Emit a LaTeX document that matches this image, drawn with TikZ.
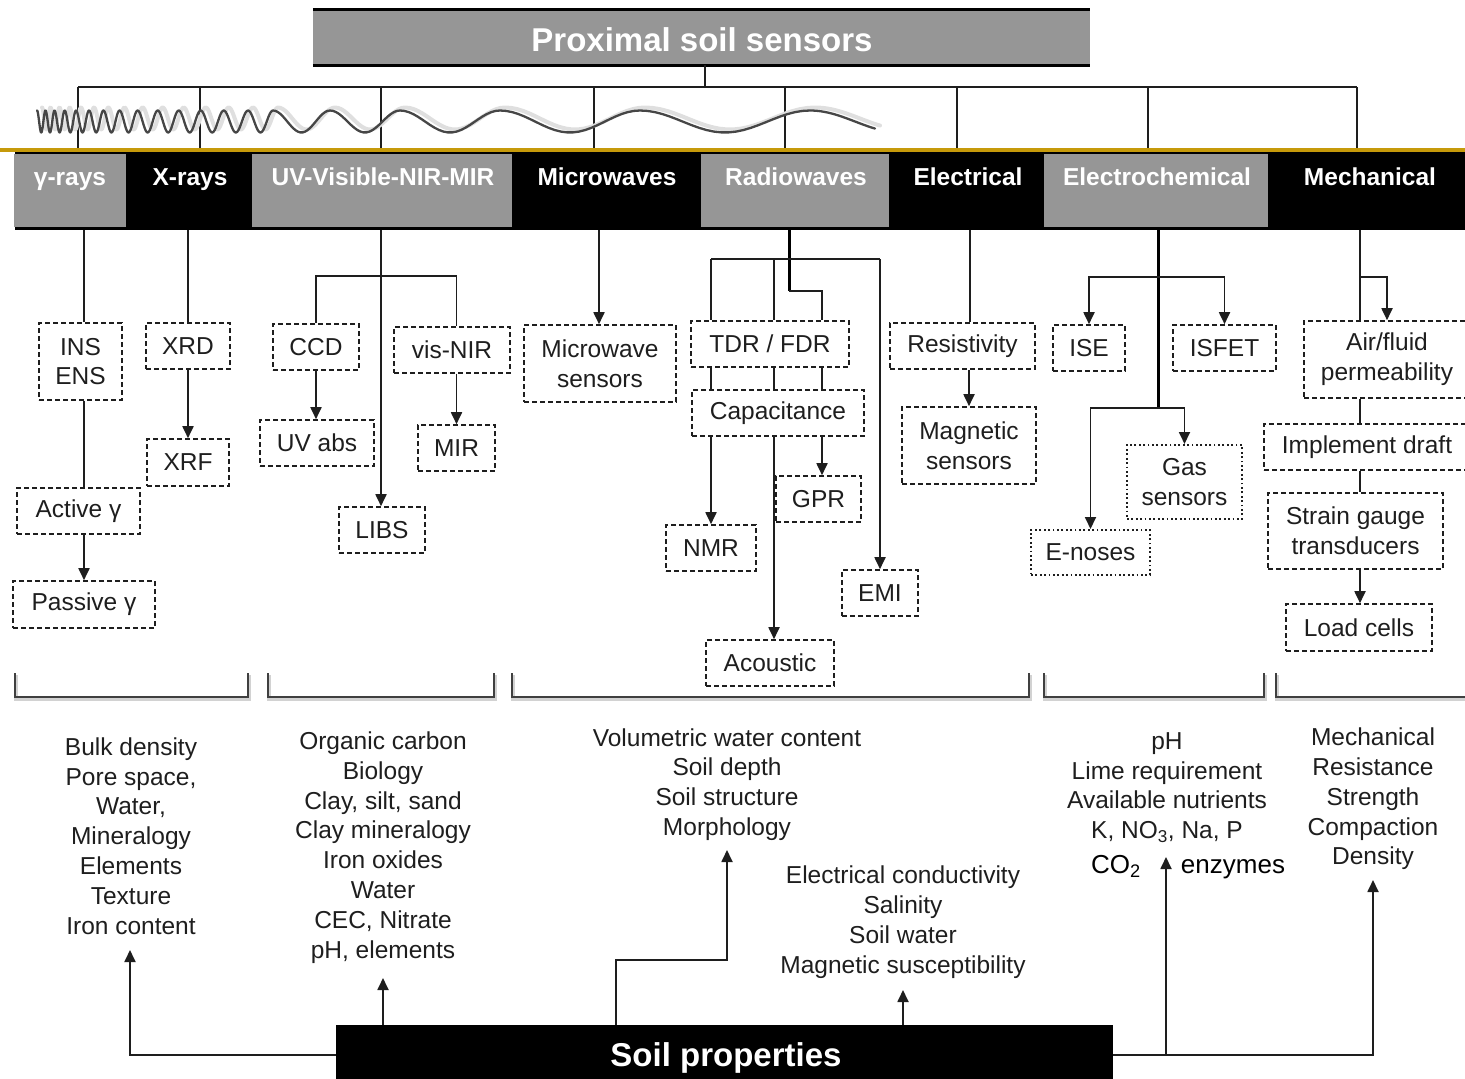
\documentclass[tikz,border=0pt]{standalone}
\usepackage{fontspec}
\setmainfont{Liberation Sans}
\usetikzlibrary{arrows.meta}
\definecolor{gbox}{RGB}{150,150,150}
\definecolor{gold}{RGB}{198,154,10}
\definecolor{ink}{RGB}{30,30,30}
\newcommand\fs{\fontsize{24.5}{29.8}\selectfont}
\newcommand\hfs{\fontsize{24.5}{29}\selectfont\bfseries}
\newcommand\tfs{\fontsize{33}{40}\selectfont\bfseries}
\newcommand\wavelist{37/45.5, 45.5/54.5, 54.5/64.7, 64.7/76, 76/89, 89/103.4, 103.4/119.5, 119.5/137.6, 137.6/157.7, 157.7/178.7, 178.7/200.7, 200.7/223.7, 223.7/248, 248/273, 273/330, 330/400, 400/500, 500/640, 640/810}
\newcommand\wavepath{(37,110.5) \foreach \a/\b in \wavelist { -- plot[domain=\a:\b, samples=24] (\x, {121.5-11*cos(360/(\b-\a)*(\x-\a))}) } -- plot[domain=810:875, samples=20] (\x, {121.5-11*cos(2*(\x-810))})}
\tikzset{
  sbox/.style={draw=ink, line width=1.6, dash pattern=on 5pt off 3pt, inner sep=0, align=center, font=\fs, text=ink},
  dbox/.style={sbox, dash pattern=on 1.8pt off 2.6pt, line width=2},
  conn/.style={draw=ink, line width=1.8},
  arr/.style={conn, -{Triangle[length=12pt,width=11pt]}},
  thickconn/.style={draw=black, line width=3},
  hlab/.style={text=white, font=\hfs, anchor=base, inner sep=0},
  plab/.style={font=\fs, align=center, text=ink, inner sep=0},
  brk/.style={draw=ink!85, line width=2.2},
  brkshadow/.style={draw=gray!35, line width=4},
  cell/.style={inner sep=0, anchor=north west, minimum height=73},
}
\begin{document}
\begin{tikzpicture}[x=1pt,y=-1pt]
\useasboundingbox (0,0) rectangle (1465,1079);
\clip (0,0) rectangle (1465,1079);

% ---------- top box ----------
\node[fill=gbox, minimum width=777, minimum height=55, inner sep=0] (psb) at (701.5,37.5) {};
\node[text=white, font=\tfs, inner sep=0] (psl) at (702,39.5) {Proximal soil sensors};
\draw[line width=3] (psb.north west) -- (psb.north east);
\draw[line width=3] (psb.south west) -- (psb.south east);
\coordinate (h0) at (705,87);
\draw[conn] (psb.south -| h0) -- (h0);
\draw[conn] (78,87) -- (1357,87);
\foreach \x in {78,200,381,594,785,957,1148,1357} \draw[conn] (\x,87) -- (\x,150);

% ---------- wave ----------
\begin{scope}[shift={(5,-3)}]
\draw[gray!25, line width=4, line join=round, line cap=round] \wavepath;
\end{scope}
\draw[gray!55!black, line width=2.3, line join=round, line cap=round] \wavepath;

% ---------- gold line ----------
\draw[gold, line width=4] (0,150) -- (1465,150);

% ---------- header bar ----------
\node[fill=black, minimum width=1450, minimum height=78, inner sep=0, anchor=north west] (bar) at (15,152) {};
\node[cell, fill=gbox, minimum width=112] (cg) at (14,154) {};
\node[cell, fill=gbox, minimum width=260] (cu) at (252,154) {};
\node[cell, fill=gbox, minimum width=188] (cr) at (701,154) {};
\node[cell, fill=gbox, minimum width=224] (ce) at (1044,154) {};
\node[hlab] (lg) at (70,185) {γ-rays};
\node[hlab] (lx) at (190,185) {X-rays};
\node[hlab] (lu) at (383,185) {UV-Visible-NIR-MIR};
\node[hlab] (lm) at (607,185) {Microwaves};
\node[hlab] (lr) at (796,185) {Radiowaves};
\node[hlab] (le) at (968,185) {Electrical};
\node[hlab] (lc) at (1157,185) {Electrochemical};
\node[hlab] (lme) at (1370,185) {Mechanical};

% ---------- sensor boxes ----------
\node[sbox, minimum width=83, minimum height=77] (ins) at (80.5,361.5) {INS\\ENS};
\node[sbox, minimum width=84, minimum height=46] (xrd) at (188,346) {XRD};
\node[sbox, minimum width=82, minimum height=47] (xrf) at (188,462.5) {XRF};
\node[sbox, minimum width=123, minimum height=46] (act) at (78.5,511) {Active γ};
\node[sbox, minimum width=142, minimum height=47] (pas) at (84,604.5) {Passive γ};
\node[sbox, minimum width=86, minimum height=46] (ccd) at (316,347) {CCD};
\node[sbox, minimum width=116, minimum height=46] (vis) at (452,350) {vis-NIR};
\node[sbox, minimum width=114, minimum height=46] (uva) at (317,443) {UV abs};
\node[sbox, minimum width=77, minimum height=46] (mir) at (456.5,448) {MIR};
\node[sbox, minimum width=86, minimum height=46] (libs) at (382,530) {LIBS};
\node[sbox, minimum width=152, minimum height=77] (mws) at (600,363.5) {Microwave\\sensors};
\node[sbox, minimum width=158, minimum height=46] (tdr) at (770,344) {TDR / FDR};
\node[sbox, minimum width=172, minimum height=46] (cap) at (778,413) {Capacitance};
\node[sbox, minimum width=85, minimum height=46] (gpr) at (818.5,499) {GPR};
\node[sbox, minimum width=90, minimum height=46] (nmr) at (711,548) {NMR};
\node[sbox, minimum width=76, minimum height=46] (emi) at (880,593) {EMI};
\node[sbox, minimum width=128, minimum height=46] (aco) at (770,663) {Acoustic};
\node[sbox, minimum width=145, minimum height=46] (res) at (962.5,346) {Resistivity};
\node[sbox, minimum width=134, minimum height=77] (mag) at (969,445.5) {Magnetic\\sensors};
\node[sbox, minimum width=72, minimum height=46] (ise) at (1089,348) {ISE};
\node[sbox, minimum width=103, minimum height=46] (isf) at (1224.5,348) {ISFET};
\node[dbox, minimum width=115, minimum height=74] (gas) at (1184.5,482) {Gas\\sensors};
\node[dbox, minimum width=119, minimum height=45] (eno) at (1090.5,552.5) {E-noses};
\node[sbox, minimum width=166, minimum height=77] (air) at (1387,359.5) {Air/fluid\\permeability};
\node[sbox, minimum width=206, minimum height=46] (imp) at (1367,447) {Implement draft};
\node[sbox, minimum width=175, minimum height=76] (str) at (1355.5,531) {Strain gauge\\transducers};
\node[sbox, minimum width=146, minimum height=47] (load) at (1359,627.5) {Load cells};

% ---------- connectors: gamma ----------
\coordinate (gx) at (84,230);
\draw[conn] (gx) -- (gx |- ins.north);
\draw[conn] (gx |- ins.south) -- (gx |- act.north);
\draw[arr] (gx |- act.south) -- (gx |- pas.north);
% X-rays
\coordinate (xx) at (188,230);
\draw[conn] (xx) -- (xx |- xrd.north);
\draw[arr] (xx |- xrd.south) -- (xx |- xrf.north);
% UV
\coordinate (ux) at (381,230);
\draw[arr] (ux) -- (ux |- libs.north);
\draw[conn] (ccd.north) -- ++(0,-47) -| (mir.north |- vis.north);
\draw[arr] (ccd.south) -- (ccd.south |- uva.north);
\draw[arr] (mir.north |- vis.south) -- (mir.north);
% Microwaves
\coordinate (mx) at (599,230);
\draw[arr] (mx) -- (mx |- mws.north);
% Radiowaves
\coordinate (rx) at (789,230);
\coordinate (rk) at (789,291);
\coordinate (a1) at (711,259);
\coordinate (a2) at (774,259);
\coordinate (a3) at (822,291);
\coordinate (a4) at (880,259);
\draw[thickconn] (rx) -- (rk);
\draw[conn] (a1) -- (a4);
\draw[conn] (rk) -- (a3) -- (a3 |- tdr.north);
\draw[conn] (a1) -- (a1 |- tdr.north);
\draw[conn] (a2) -- (a2 |- tdr.north);
\draw[arr] (a4) -- (emi.north);
\draw[conn] (a1 |- tdr.south) -- (a1 |- cap.north);
\draw[conn] (a2 |- tdr.south) -- (a2 |- cap.north);
\draw[conn] (a3 |- tdr.south) -- (a3 |- cap.north);
\draw[arr] (a1 |- cap.south) -- (a1 |- nmr.north);
\draw[arr] (a2 |- cap.south) -- (a2 |- aco.north);
\draw[arr] (a3 |- cap.south) -- (a3 |- gpr.north);
% Electrical
\coordinate (ex) at (970,230);
\draw[conn] (ex) -- (ex |- res.north);
\draw[arr] (mag.north |- res.south) -- (mag.north);
% Electrochemical
\coordinate (ecx) at (1158,230);
\coordinate (eb) at (1158,277);
\coordinate (ej) at (1158,408);
\draw[thickconn] (ecx) -- (ej);
\draw[arr] (eb) -| (ise.north);
\draw[arr] (eb) -| (isf.north);
\draw[arr] (ej) -| (gas.north);
\draw[arr] (ej) -| (eno.north);
% Mechanical
\coordinate (mex) at (1360,230);
\coordinate (mb) at (1360,277);
\draw[conn] (mex) -- (mex |- air.north);
\draw[arr] (mb) -| (air.north);
\draw[conn] (mex |- air.south) -- (mex |- imp.north);
\draw[conn] (mex |- imp.south) -- (mex |- str.north);
\draw[arr] (mex |- str.south) -- (mex |- load.north);

% ---------- brackets ----------
\foreach \a/\b in {15/248, 268/494, 512/1029, 1044/1264, 1276/1475} {
  \draw[brkshadow] ({\a+1},675) -- ({\a+1},699) -- ({\b+1},699) -- ({\b+1},675);
  \draw[brk] (\a,673) -- (\a,697) -- (\b,697) -- (\b,673);
}

% ---------- properties ----------
\node[plab] (p1) at (131,836) {Bulk density\\Pore space,\\Water,\\Mineralogy\\Elements\\Texture\\Iron content};
\node[plab] (p2) at (383,847.5) {Organic carbon\\Biology\\Clay, silt, sand\\Clay mineralogy\\Iron oxides\\Water\\CEC, Nitrate\\pH, elements};
\node[plab] (p3) at (727,784.5) {Volumetric water content\\Soil depth\\Soil structure\\Morphology};
\node[plab] (p4) at (903,922) {Electrical conductivity\\Salinity\\Soil water\\Magnetic susceptibility};
\node[plab] (p5) at (1167,787.5) {pH\\Lime requirement\\Available nutrients\\K, NO\textsubscript{3}, Na, P};
\node[plab, font=\fontsize{26}{30}\selectfont, text=black, anchor=base] (p5a) at (1116,873) {CO\textsubscript{2}};
\node[plab, font=\fontsize{26}{30}\selectfont, text=black, anchor=base] (p5b) at (1233,873) {enzymes};
\node[plab] (p6) at (1373,799) {Mechanical\\Resistance\\Strength\\Compaction\\Density};

% ---------- soil properties ----------
\node[fill=black, minimum width=777, minimum height=60, inner sep=0] (sp) at (724.5,1055) {};
\node[text=white, font=\tfs, inner sep=0] (spl) at (726,1058) {Soil properties};
\coordinate (t1) at (130,950);
\coordinate (t2) at (383,978);
\coordinate (b3) at (616,960);
\coordinate (t3) at (727,850);
\coordinate (t4) at (903,990);
\coordinate (t5) at (1166,857);
\coordinate (t6) at (1373,880);
\draw[arr] (sp.west) -| (t1);
\draw[arr] (sp.north -| t2) -- (t2);
\draw[arr] (sp.north -| b3) -- (b3) -| (t3);
\draw[arr] (sp.north -| t4) -- (t4);
\draw[arr] (sp.east) -| (t6);
\draw[arr] (sp.east -| t5) -- (t5);
\end{tikzpicture}
\end{document}
